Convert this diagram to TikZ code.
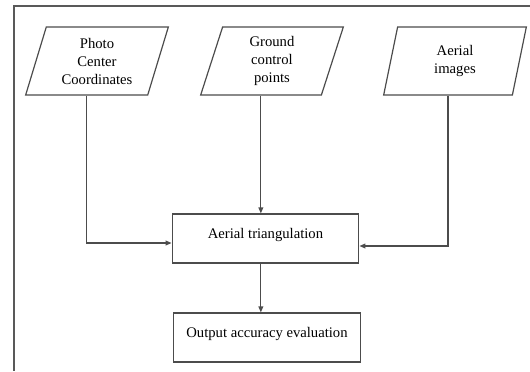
\documentclass[tikz,border=0pt]{standalone}
\usepackage{fontspec}
\setmainfont{Liberation Serif}
\usetikzlibrary{shapes.geometric,arrows.meta,calc}

\begin{document}
\begin{tikzpicture}[x=0.75pt,y=-0.75pt,
  every node/.style={draw=black!70,line width=0.9pt,align=center,
    font=\fontsize{11pt}{13.5pt}\selectfont},
  data/.style={trapezium,trapezium left angle=66,trapezium right angle=114,
    trapezium stretches body,minimum width=107pt,minimum height=51pt,inner sep=0pt},
  proc/.style={rectangle,minimum width=140pt,inner ysep=0pt,
    text height=18pt,text depth=18.75pt},
  flow/.style={draw=black!70,line width=0.9pt,-{Triangle[length=4.5pt,width=3.6pt]}}]

  \useasboundingbox (0,0) rectangle (530,371);

  % outer frame (cut at right and bottom)
  \draw[black!65,line width=1pt] (530,6) -- (14,6) -- (14,371);

  % Specification of nodes (position, etc.)
  \node[data] (pcc) at (97,61) {Photo\\Center\\Coordinates};
  \node[data] (gcp) at (272,61) {Ground\\control\\points};
  \node[data] (aer) at (455,61) {Aerial\\images};
  \node[proc] (tri) at (265.5,238.5) {Aerial triangulation};
  \node[proc] (out) at (267,337.5) {Output accuracy evaluation};

  \coordinate (pccb) at ($(pcc.bottom left corner)!0.5!(pcc.bottom right corner)$);
  \coordinate (gcpb) at ($(gcp.bottom left corner)!0.5!(gcp.bottom right corner)$);
  \coordinate (aerb) at ($(aer.bottom left corner)!0.5!(aer.bottom right corner)$);

  \draw[flow] (pccb) |- ($(tri.west)+(0,4.5)$);
  \draw[flow] (gcpb) -- (gcpb |- tri.north);
  \draw[flow] (aerb) |- ($(tri.east)+(0,7.5)$);
  \draw[flow] (gcpb |- tri.south) -- (gcpb |- out.north);

\end{tikzpicture}
\end{document}
